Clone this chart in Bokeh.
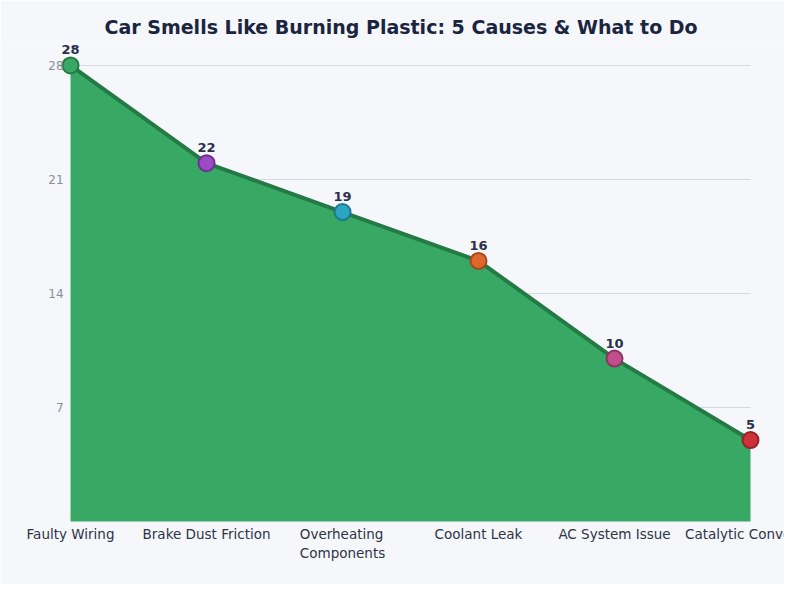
from bokeh.plotting import figure
from bokeh.models import ColumnDataSource, Range1d, LabelSet
from bokeh.embed import file_html
from bokeh.resources import INLINE
from bokeh.core.properties import value

categories = ["Faulty Wiring", "Brake Dust Friction", "Overheating\nComponents",
              "Coolant Leak", "AC System Issue", "Catalytic Converter"]
values = [28, 22, 19, 16, 10, 5]
point_colors = ["#38a865", "#9b4cc2", "#2aa6c0", "#e0672c", "#c24f8c", "#cc3338"]
point_lines = ["#237a45", "#6e2f8f", "#1a7a90", "#a8481a", "#8e3464", "#962226"]
y_ticks = [7, 14, 21, 28]

xs = list(range(len(categories)))
src = ColumnDataSource(dict(x=xs, y=values, bottom=[0] * len(xs), fc=point_colors,
                            lc=point_lines, lbl=[str(v) for v in values], cat=categories))
grid_src = ColumnDataSource(dict(x0=[xs[0]] * len(y_ticks), x1=[xs[-1]] * len(y_ticks),
                                 y=y_ticks, lbl=[str(t) for t in y_ticks]))

p = figure(width=784, height=584, output_backend="svg", toolbar_location=None,
           x_range=Range1d(-0.515, 5.25), y_range=Range1d(-3.87, 29.41),
           background_fill_color="#f5f7fb", border_fill_color="#f5f7fb",
           min_border_left=0, min_border_right=0, min_border_bottom=0, min_border_top=42)
p.outline_line_color = None

p.title.text = "Car Smells Like Burning Plastic: 5 Causes & What to Do"
p.title.align = "left"
p.title.offset = 104
p.title.text_font = "DejaVu Sans"
p.title.text_font_style = "bold"
p.title.text_font_size = "19px"
p.title.text_color = "#1a2540"

p.xgrid.visible = False
p.ygrid.visible = False
p.segment(x0="x0", x1="x1", y0="y", y1="y", source=grid_src, line_color="#d5d9e0", line_width=1)

p.varea(x="x", y1="bottom", y2="y", source=src, fill_color="#38a865", fill_alpha=1.0)
p.line(x="x", y="y", source=src, line_color="#237a45", line_width=4)
p.scatter(x="x", y="y", source=src, size=16, fill_color="fc", line_color="lc", line_width=2)
p.add_layout(LabelSet(x="x", y="y", text="lbl", source=src, y_offset=11, text_align="center",
                      text_baseline="bottom", text_font=value("DejaVu Sans"),
                      text_font_style="bold", text_font_size="13px", text_color="#2a3048"))
p.add_layout(LabelSet(x="x0", y="y", text="lbl", source=grid_src, x_offset=-7, text_align="right",
                      text_baseline="middle", text_font=value("DejaVu Sans"),
                      text_font_size="12px", text_color="#8a8f9c"))
p.add_layout(LabelSet(x="x", y="bottom", text="cat", source=src, y_offset=-5, text_align="center",
                      text_baseline="top", text_font=value("DejaVu Sans"),
                      text_font_size="13.5px", text_color="#2d3446", text_line_height=1.15))

p.yaxis.visible = False
p.xaxis.visible = False

open("out.html", "w").write(file_html(p, INLINE))
